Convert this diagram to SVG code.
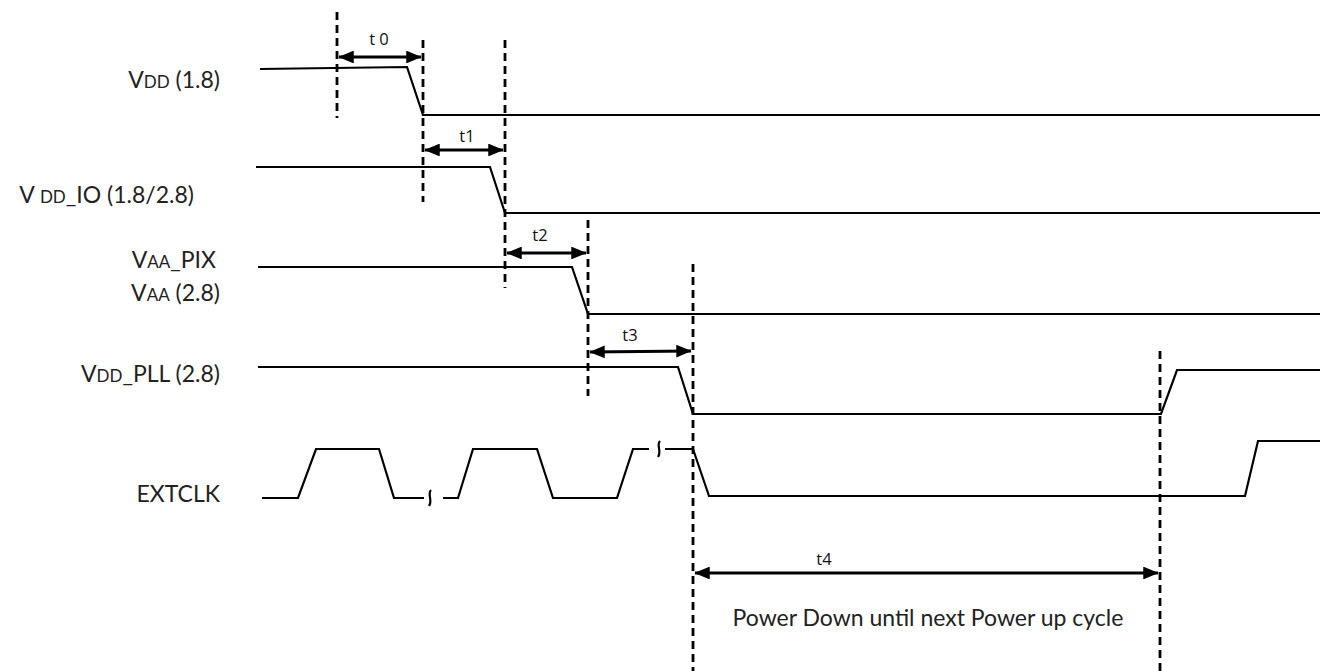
<svg xmlns="http://www.w3.org/2000/svg" width="1320" height="671" viewBox="0 0 1320 671">
<style>
.sig{fill:none;stroke:#000;stroke-width:2.2;stroke-linejoin:miter}
.dash{fill:none;stroke:#000;stroke-width:2.8;stroke-dasharray:8,5}
.arr{fill:none;stroke:#000;stroke-width:3.2;marker-start:url(#ah);marker-end:url(#ah)}
.lbl{font-family:Lato,"Open Sans","Liberation Sans",sans-serif;font-size:23px;fill:#222;text-anchor:end}
.sm{font-size:17px}
.t{font-family:"Open Sans","DejaVu Sans",sans-serif;font-size:16.5px;fill:#111;text-anchor:middle}
.note{font-family:Lato,"Open Sans","Liberation Sans",sans-serif;font-size:23px;fill:#222;text-anchor:middle}
</style>
<defs>
<marker id="ah" viewBox="0 0 12 10" refX="11.5" refY="5" markerWidth="5.2" markerHeight="4" orient="auto-start-reverse" markerUnits="strokeWidth">
<path d="M0,0 L12,5 L0,10 Z" fill="#000"/>
</marker>
</defs>
<rect width="1320" height="671" fill="#fff"/>

<g id="labels">
<text class="lbl" x="220" y="88">V<tspan class="sm">DD</tspan> (1.8)</text>
<text class="lbl" x="194" y="203">V <tspan class="sm">DD</tspan>_IO (1.8/2.8)</text>
<text class="lbl" x="216" y="268">V<tspan class="sm">AA</tspan>_PIX</text>
<text class="lbl" x="220" y="301">V<tspan class="sm">AA</tspan> (2.8)</text>
<text class="lbl" x="220" y="382">V<tspan class="sm">DD</tspan>_PLL (2.8)</text>
<text class="lbl" x="220" y="502">EXTCLK</text>
</g>

<g id="vdd">
<path class="sig" d="M260,69 L407,67 L423,115 L1320,115"/>
</g>
<g id="vdd_io">
<path class="sig" d="M256,167 L490,167 L505,213 L1320,213"/>
</g>
<g id="vaa">
<path class="sig" d="M258,267 L572,267 L588,314 L1320,314"/>
</g>
<g id="vdd_pll">
<path class="sig" d="M258,367 L678,367 L693,414 L1161,414 L1177,370 L1320,370"/>
</g>
<g id="extclk">
<path class="sig" d="M262,498 L298,498 L316,449 L379,449 L394,498 L424,498"/>
<path class="sig" d="M431,490 C427,494 433,500 429,506"/>
<path class="sig" d="M443,498 L458,498 L473,449 L537,449 L553,498 L617,498 L633,449 L649,449"/>
<path class="sig" d="M660,441 C656,445 662,451 658,457"/>
<path class="sig" d="M665,449 L693,449 L709,496 L1245,496 L1258,441 L1320,441"/>
</g>

<g id="connectors">
<line class="dash" x1="337" y1="12" x2="337" y2="118"/>
<line class="dash" x1="423" y1="40" x2="423" y2="202"/>
<line class="dash" x1="505" y1="40" x2="505" y2="288"/>
<line class="dash" x1="588" y1="220" x2="588" y2="396"/>
<line class="dash" x1="693" y1="264" x2="693" y2="671"/>
<line class="dash" x1="1160" y1="351" x2="1160" y2="671"/>
<line class="arr" x1="339" y1="57" x2="421" y2="57"/>
<line class="arr" x1="425" y1="150" x2="503" y2="150"/>
<line class="arr" x1="507" y1="253" x2="586" y2="253"/>
<line class="arr" x1="590" y1="352" x2="691" y2="351"/>
<line class="arr" x1="695" y1="573" x2="1158" y2="573"/>
</g>

<g id="timing-labels">
<text class="t" x="379" y="45">t 0</text>
<text class="t" x="467" y="142">t1</text>
<text class="t" x="540" y="241">t2</text>
<text class="t" x="630" y="341">t3</text>
<text class="t" x="824" y="565">t4</text>
<text class="note" x="928" y="626">Power Down until next Power up cycle</text>
</g>
</svg>
